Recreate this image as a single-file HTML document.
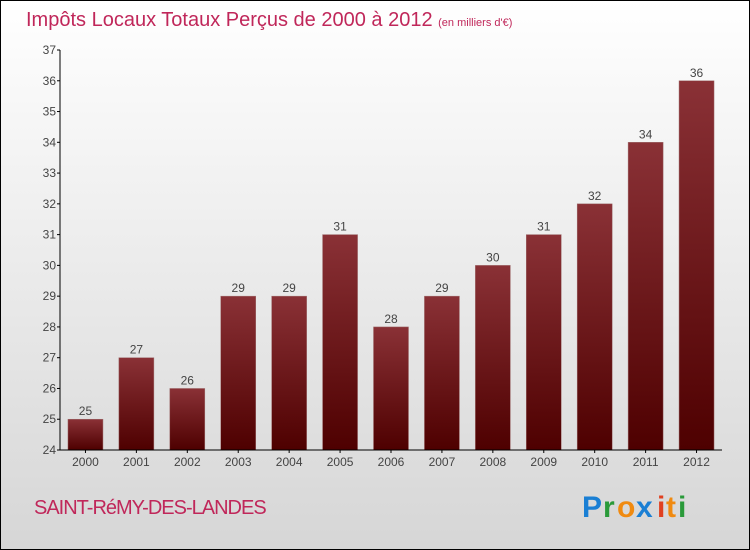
<!DOCTYPE html>
<html><head><meta charset="utf-8"><style>
body{margin:0;}
svg{display:block;font-family:"Liberation Sans",sans-serif;}
</style></head><body>
<svg id="chart" width="750" height="550" xmlns="http://www.w3.org/2000/svg">
<defs>
<linearGradient id="bg" x1="0" y1="0" x2="0" y2="1"><stop offset="0" stop-color="#ffffff"/><stop offset="1" stop-color="#d6d6d6"/></linearGradient>
<linearGradient id="bar" x1="0" y1="0" x2="0" y2="1"><stop offset="0" stop-color="#8a3136"/><stop offset="1" stop-color="#4e0000"/></linearGradient>
</defs>
<rect x="0.5" y="0.5" width="749" height="549" fill="url(#bg)" stroke="#000"/>
<text x="26" y="26" font-size="20" fill="#c0275a">Impôts Locaux Totaux Perçus de 2000 à 2012 <tspan font-size="11">(en milliers d'€)</tspan></text>
<g id="plot"></g>
<text x="34" y="514" font-size="20" fill="#c0275a" letter-spacing="-1">SAINT-RéMY-DES-LANDES</text>
<g font-size="30" font-weight="bold">
<text x="582" y="517" fill="#1a7fd4">P</text><text x="603" y="517" fill="#2a9a3a">r</text><text x="617" y="517" fill="#f08a10">o</text><text x="636" y="517" fill="#1a7fd4">x</text><text x="657" y="517" fill="#e04020">i</text><text x="666" y="517" fill="#f08a10">t</text><text x="678" y="517" fill="#2a9a3a">i</text>
</g>
</svg>
<script>
const years=["2000","2001","2002","2003","2004","2005","2006","2007","2008","2009","2010","2011","2012"];
const values=[25,27,26,29,29,31,28,29,30,31,32,34,36];
const yTicks=[24,25,26,27,28,29,30,31,32,33,34,35,36,37];
const NS="http://www.w3.org/2000/svg";
const g=document.getElementById('plot');
const y0=450,y1=50,vmin=24,vmax=37,xl=60,xr=722;
const ys=v=>y0-(v-vmin)*(y0-y1)/(vmax-vmin);
const step=(xr-xl)/years.length;
const xc=i=>xl+step*(i+0.5);
function mk(t,a){const e=document.createElementNS(NS,t);for(const k in a)e.setAttribute(k,a[k]);g.appendChild(e);return e;}
yTicks.forEach(v=>{
 const tk=mk('line',{x1:xl-3,x2:xl,y1:ys(v),y2:ys(v),stroke:'#000'});
 
 
 const t=mk('text',{x:xl-4,y:ys(v)+4,'text-anchor':'end','font-size':12,fill:'#444'});
 t.textContent=v;
 
 
});
values.forEach((v,i)=>{
 const b=mk('rect',{x:xc(i)-17.5,y:ys(v),width:35,height:y0-ys(v),fill:'url(#bar)',stroke:'#a07070','stroke-width':0.5});
 
 
 const l=mk('text',{x:xc(i),y:ys(v)-4,'text-anchor':'middle','font-size':12,fill:'#444'});
 l.textContent=v;
 
 
 const xt=mk('line',{x1:xc(i),x2:xc(i),y1:y0,y2:y0+3,stroke:'#000'});
 
 
 const xlb=mk('text',{x:xc(i),y:y0+16,'text-anchor':'middle','font-size':12,fill:'#444'});
 xlb.textContent=years[i];
 
 
});
const ya=mk('line',{x1:xl,x2:xl,y1:y1,y2:y0,stroke:'#000'});


const xa=mk('line',{x1:xl,x2:xr,y1:y0,y2:y0,stroke:'#000'});


</script>
</body></html>
